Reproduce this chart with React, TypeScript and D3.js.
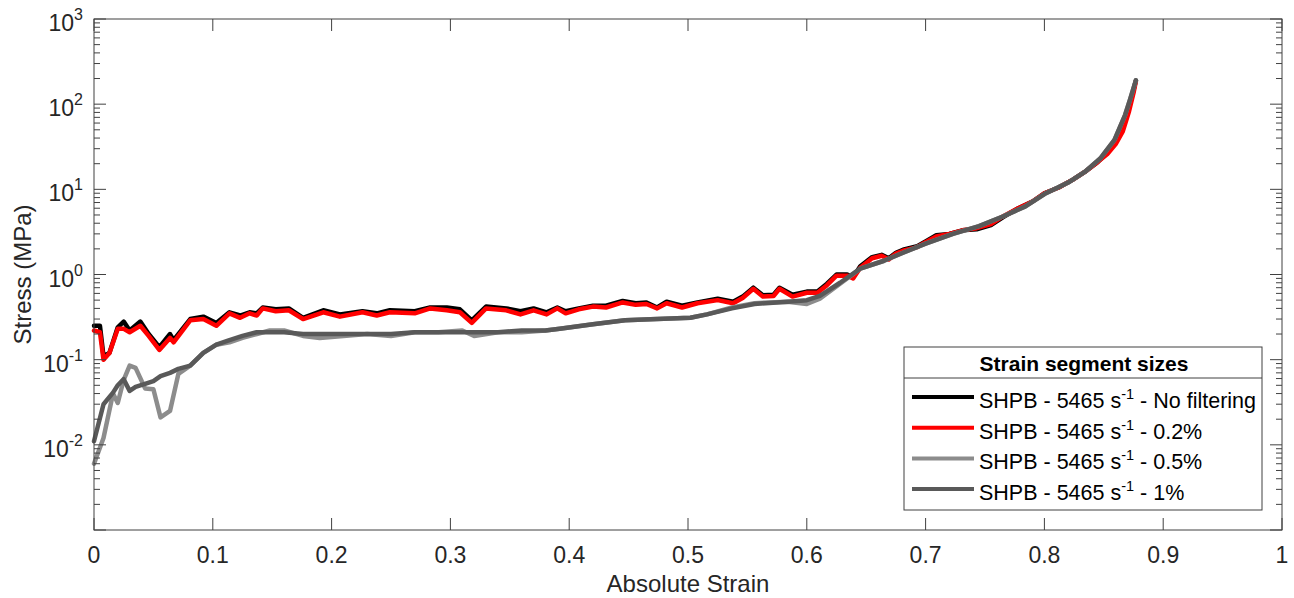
import React from "react";
import * as d3 from "d3";

// strain grid for the noisy (black / red) curves
const strainRB = [
  0.0, 0.005, 0.008, 0.013, 0.02, 0.025, 0.03, 0.039, 0.046, 0.055, 0.064, 0.067,
  0.081, 0.092, 0.103, 0.114, 0.123, 0.131, 0.137, 0.142, 0.153, 0.164, 0.176,
  0.193, 0.207, 0.226, 0.238, 0.249, 0.27, 0.283, 0.297, 0.308, 0.318, 0.33,
  0.347, 0.359, 0.37, 0.381, 0.39, 0.397, 0.408, 0.42, 0.431, 0.445, 0.456,
  0.465, 0.474, 0.482, 0.495, 0.508, 0.525, 0.538, 0.546, 0.555, 0.563, 0.572,
  0.577, 0.588, 0.6, 0.609, 0.617, 0.625, 0.634, 0.639, 0.645, 0.655, 0.663,
  0.669, 0.675, 0.681, 0.693, 0.7, 0.709, 0.72, 0.731, 0.743, 0.755, 0.765,
  0.778, 0.79, 0.8, 0.812, 0.824, 0.834, 0.845, 0.853, 0.86, 0.866, 0.871,
  0.875, 0.877,
];
const stressBlack = [
  0.25, 0.25, 0.11, 0.12, 0.24, 0.28, 0.22, 0.28, 0.2, 0.14, 0.2, 0.17,
  0.3, 0.32, 0.27, 0.36, 0.33, 0.36, 0.35, 0.41, 0.39, 0.4, 0.31,
  0.38, 0.34, 0.37, 0.35, 0.38, 0.37, 0.41, 0.41, 0.39, 0.29, 0.42,
  0.4, 0.37, 0.4, 0.36, 0.41, 0.37, 0.4, 0.43, 0.43, 0.49, 0.46,
  0.47, 0.41, 0.48, 0.43, 0.47, 0.52, 0.48, 0.55, 0.7, 0.57, 0.58,
  0.7, 0.58, 0.63, 0.63, 0.78, 1.0, 1.0, 0.93, 1.25, 1.6, 1.7,
  1.55, 1.8, 1.95, 2.15, 2.45, 2.9, 3.0, 3.3, 3.4, 3.8, 4.7,
  6.0, 7.2, 9.0, 10.5, 13, 16, 21, 27, 36, 53, 88,
  145, 190,
];
const stressRed = [
  0.22, 0.21, 0.1, 0.12, 0.23, 0.23, 0.21, 0.25, 0.19, 0.13, 0.18, 0.16,
  0.29, 0.3, 0.25, 0.35, 0.31, 0.35, 0.33, 0.4, 0.37, 0.38, 0.3,
  0.36, 0.32, 0.36, 0.33, 0.36, 0.35, 0.4, 0.38, 0.36, 0.27, 0.4,
  0.38, 0.34, 0.38, 0.34, 0.4, 0.35, 0.39, 0.42, 0.41, 0.47, 0.44,
  0.45, 0.4, 0.46, 0.41, 0.46, 0.5, 0.46, 0.53, 0.68, 0.55, 0.56,
  0.68, 0.55, 0.61, 0.61, 0.75, 0.97, 0.97, 0.9, 1.2, 1.55, 1.66,
  1.5, 1.76, 1.9, 2.1, 2.4, 2.8, 3.0, 3.3, 3.5, 3.9, 4.8,
  6.0, 7.2, 9.0, 10.5, 13, 16, 21, 26, 34, 48, 80,
  135, 185,
];

// strain grid for the smoother (grey) curves
const strainGray = [
  0.0, 0.008, 0.016, 0.02, 0.025, 0.03, 0.035, 0.043, 0.05, 0.056, 0.064, 0.071,
  0.081, 0.092, 0.103, 0.114, 0.125, 0.137, 0.148, 0.16, 0.176, 0.19, 0.21,
  0.23, 0.25, 0.27, 0.29, 0.31, 0.32, 0.34, 0.36, 0.38, 0.392, 0.42, 0.447,
  0.474, 0.502, 0.516, 0.537, 0.556, 0.584, 0.6, 0.611, 0.628, 0.645, 0.665,
  0.681, 0.7, 0.723, 0.745, 0.765, 0.784, 0.8, 0.82, 0.834, 0.847, 0.859,
  0.868, 0.872, 0.877,
];
const stressLight = [
  0.006, 0.012, 0.04, 0.031, 0.058, 0.085, 0.08, 0.046, 0.045, 0.021, 0.025, 0.068,
  0.085, 0.12, 0.15, 0.16, 0.18, 0.2, 0.22, 0.22, 0.19, 0.18, 0.19,
  0.2, 0.19, 0.21, 0.21, 0.22, 0.19, 0.21, 0.21, 0.22, 0.23, 0.26, 0.29,
  0.3, 0.31, 0.34, 0.41, 0.46, 0.48, 0.45, 0.52, 0.78, 1.17, 1.45,
  1.8, 2.3, 3.0, 3.7, 4.8, 6.3, 8.8, 12, 16, 23, 38,
  75, 112, 190,
];
const stressDark = [
  0.011, 0.03, 0.041, 0.05, 0.059, 0.043, 0.048, 0.052, 0.056, 0.064, 0.07, 0.078,
  0.085, 0.12, 0.15, 0.17, 0.19, 0.21, 0.21, 0.21, 0.2, 0.2, 0.2,
  0.2, 0.2, 0.21, 0.21, 0.21, 0.21, 0.21, 0.22, 0.22, 0.23, 0.26, 0.29,
  0.3, 0.31, 0.34, 0.4, 0.45, 0.48, 0.5, 0.56, 0.8, 1.17, 1.45,
  1.8, 2.3, 3.0, 3.7, 4.8, 6.3, 8.8, 12, 16, 23, 38,
  75, 112, 190,
];

const xTickValues = [0, 0.1, 0.2, 0.3, 0.4, 0.5, 0.6, 0.7, 0.8, 0.9, 1];
const yExponents = [-2, -1, 0, 1, 2, 3];
const legendTitle = "Strain segment sizes";
const seriesLabels = ["No filtering", "0.2%", "0.5%", "1%"];
const seriesColors = ["#000000", "#ff0000", "#8c8c8c", "#595959"];

const W = 1294;
const H = 598;
const margin = { top: 19, right: 12, bottom: 68, left: 94 };
const font = "'Liberation Sans', Arial, sans-serif";
const axisColor = "#404040";
const textColor = "#262626";

export default function App() {
  const x = d3.scaleLinear().domain([0, 1]).range([margin.left, W - margin.right]);
  const y = d3.scaleLog().domain([1e-3, 1e3]).range([H - margin.bottom, margin.top]);
  const [x0, x1] = x.range();
  const [y0, y1] = y.range();

  const line = d3
    .line<[number, number]>()
    .x((d) => x(d[0]))
    .y((d) => y(d[1]));

  const series = [
    strainRB.map((s, i) => [s, stressBlack[i]] as [number, number]),
    strainRB.map((s, i) => [s, stressRed[i]] as [number, number]),
    strainGray.map((s, i) => [s, stressLight[i]] as [number, number]),
    strainGray.map((s, i) => [s, stressDark[i]] as [number, number]),
  ];

  const yTicks = y.ticks();
  const isMajor = (v: number) => Math.abs(Math.log10(v) - Math.round(Math.log10(v))) < 1e-6;

  const legend = { x: 904, y: 347, w: 358, h: 163, head: 31, row: 30.7 };

  return (
    <svg
      width={W}
      height={H}
      style={{ position: "absolute", left: 0, top: 0, background: "#fff" }}
      fontFamily={font}
    >
      <rect x={0} y={0} width={W} height={H} fill="#fff" />

      {/* curves */}
      <g fill="none" strokeWidth={4.5} strokeLinejoin="round" strokeLinecap="round">
        {series.map((d, i) => (
          <path key={i} d={line(d) || ""} stroke={seriesColors[i]} />
        ))}
      </g>

      {/* axes box */}
      <rect x={x0} y={y1} width={x1 - x0} height={y0 - y1} fill="none" stroke={axisColor} strokeWidth={1} />

      {/* x ticks, bottom and top */}
      <g stroke={axisColor}>
        {xTickValues.map((v) => (
          <g key={v}>
            <line x1={x(v)} x2={x(v)} y1={y0} y2={y0 - 12} />
            <line x1={x(v)} x2={x(v)} y1={y1} y2={y1 + 12} />
          </g>
        ))}
      </g>
      <g fill={textColor} fontSize={23} textAnchor="middle">
        {xTickValues.map((v) => (
          <text key={v} x={x(v)} y={y0 + 33}>
            {String(v)}
          </text>
        ))}
      </g>

      {/* y ticks (log, with minor ticks), left and right */}
      <g stroke={axisColor}>
        {yTicks.map((v, i) => {
          const len = isMajor(v) ? 12 : 6;
          return (
            <g key={i}>
              <line x1={x0} x2={x0 + len} y1={y(v)} y2={y(v)} />
              <line x1={x1} x2={x1 - len} y1={y(v)} y2={y(v)} />
            </g>
          );
        })}
      </g>
      <g fill={textColor} fontSize={23} textAnchor="end">
        {yExponents.map((e) => (
          <text key={e} x={83} y={y(Math.pow(10, e)) + 12}>
            10
            <tspan fontSize={16} dy={-11}>
              {String(e)}
            </tspan>
          </text>
        ))}
      </g>

      {/* axis labels */}
      <text x={(x0 + x1) / 2} y={592} fontSize={24} fill={textColor} textAnchor="middle">
        Absolute Strain
      </text>
      <text
        transform={`translate(31,${(y0 + y1) / 2}) rotate(-90)`}
        fontSize={24}
        fill={textColor}
        textAnchor="middle"
      >
        Stress (MPa)
      </text>

      {/* legend */}
      <g>
        <rect x={legend.x} y={legend.y} width={legend.w} height={legend.h} fill="#fff" stroke={axisColor} />
        <line
          x1={legend.x}
          x2={legend.x + legend.w}
          y1={legend.y + legend.head}
          y2={legend.y + legend.head}
          stroke={axisColor}
        />
        <text
          x={legend.x + legend.w / 2 + 1}
          y={legend.y + 24}
          fontSize={21}
          fontWeight="bold"
          textAnchor="middle"
          fill="#000"
        >
          {legendTitle}
        </text>
        {seriesLabels.map((lab, i) => {
          const by = 408 + i * legend.row;
          return (
            <g key={lab}>
              <line x1={912} x2={974} y1={by - 11} y2={by - 11} stroke={seriesColors[i]} strokeWidth={4} />
              <text x={979} y={by} fontSize={21.5} fill="#000">
                SHPB - 5465 s
                <tspan fontSize={14.5} dy={-9}>
                  -1
                </tspan>
                <tspan dy={9}>{` - ${lab}`}</tspan>
              </text>
            </g>
          );
        })}
      </g>
    </svg>
  );
}
